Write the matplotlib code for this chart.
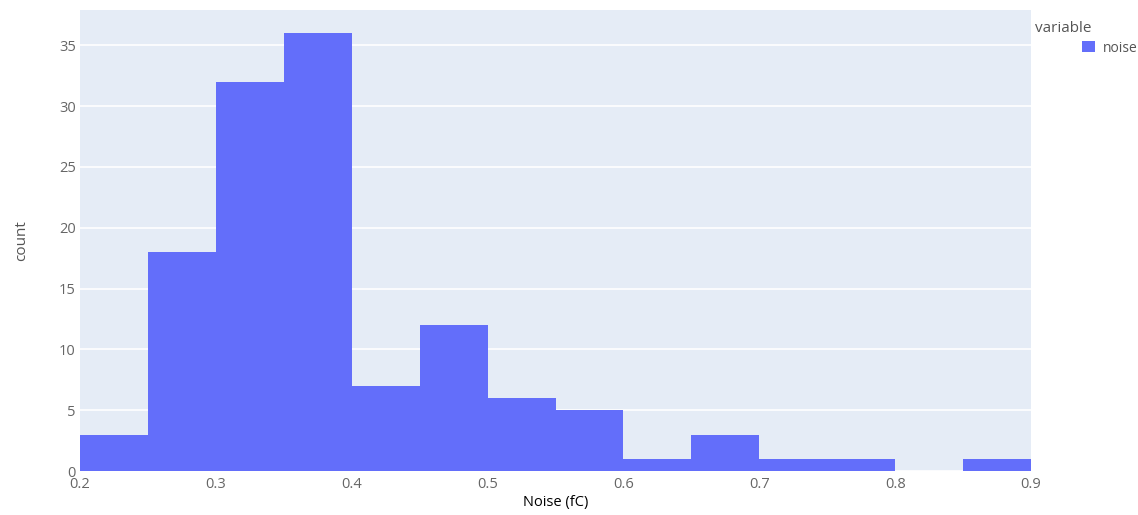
import numpy as np
import matplotlib.pyplot as plt

# histogram data
bin_edges = [0.2, 0.25, 0.3, 0.35, 0.4, 0.45, 0.5, 0.55, 0.6, 0.65, 0.7, 0.75, 0.8, 0.85, 0.9]
counts = [3, 18, 32, 36, 7, 12, 6, 5, 1, 3, 1, 1, 0, 1]
x_ticks = [0.2, 0.3, 0.4, 0.5, 0.6, 0.7, 0.8, 0.9]
y_ticks = [0, 5, 10, 15, 20, 25, 30, 35]

plt.rcParams['font.family'] = ['Open Sans', 'DejaVu Sans']

fig = plt.figure(figsize=(11.38, 5.15), dpi=100)
ax = fig.add_axes([0.0703, 0.0854, 0.8357, 0.8952])
ax.set_facecolor('#E5ECF6')

edges = np.array(bin_edges)
centers = (edges[:-1] + edges[1:]) / 2
ax.hist(centers, bins=edges, weights=counts, color='#636EFA', label='noise', zorder=3)

ax.set_xlim(0.2, 0.9)
ax.set_ylim(0, 37.9)
ax.set_xticks(x_ticks)
ax.set_xticklabels([f'{v:.1f}' for v in x_ticks])
ax.set_yticks(y_ticks)
ax.yaxis.grid(True, color='white', linewidth=1.2, zorder=0)
ax.xaxis.grid(False)
for s in ax.spines.values():
    s.set_visible(False)
ax.tick_params(length=0, labelsize=10.5, colors='#666666', pad=4)
ax.tick_params(axis='y', pad=3)

ax.set_xlabel('Noise (fC)', fontsize=10.5, color='black', va='center')
ax.xaxis.set_label_coords(0.5, -0.069)
ax.set_ylabel('count', fontsize=11, color='#555555', va='center')
ax.yaxis.set_label_coords(-0.061, 0.5)

fig.text(1035 / 1138, 1 - 28 / 515, 'variable', fontsize=11, color='#555555',
         ha='left', va='center')
leg = ax.legend(loc='center left', bbox_to_anchor=(1082 / 1138, 1 - 48 / 515),
                bbox_transform=fig.transFigure, frameon=False, fontsize=10,
                handlelength=0.9, handleheight=0.9, handletextpad=0.6,
                borderaxespad=0, borderpad=0)
for t in leg.get_texts():
    t.set_color('#555555')

fig.savefig('out.png', dpi=100)
